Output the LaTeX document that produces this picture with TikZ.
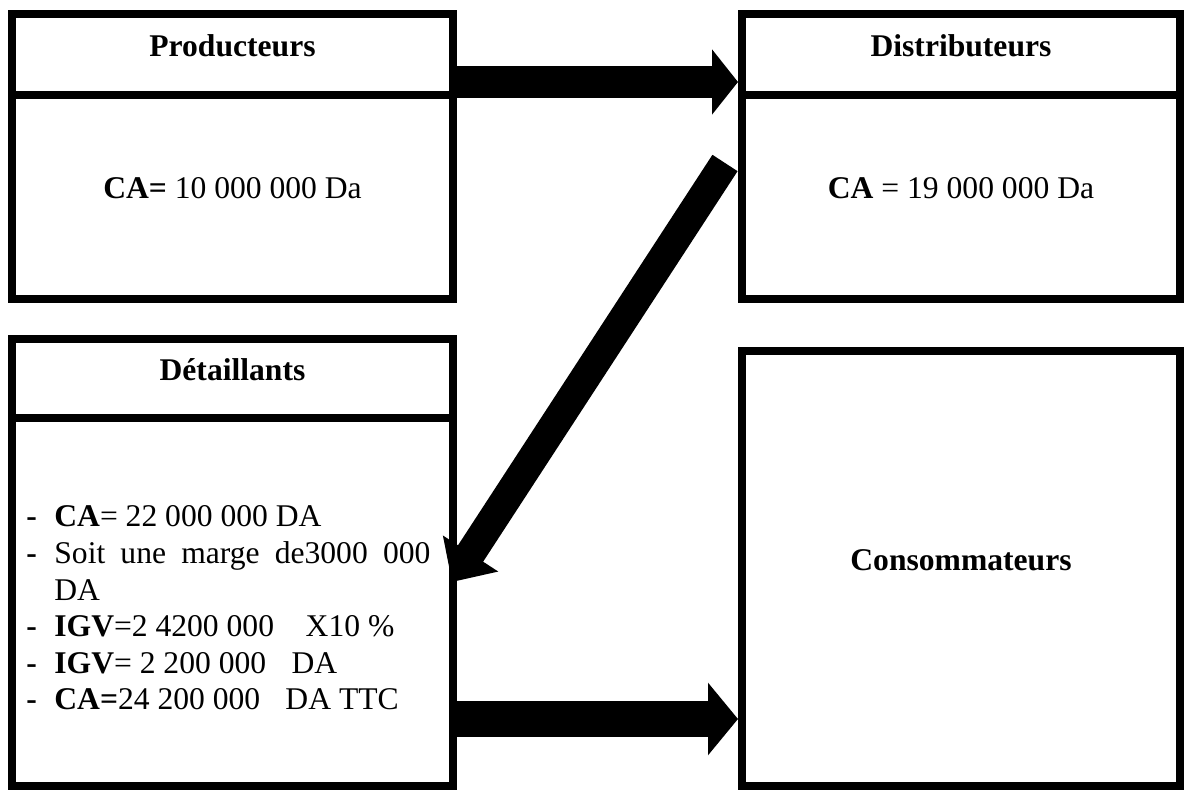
\documentclass[tikz,border=0pt]{standalone}
\usepackage{fontspec}
\setmainfont{Liberation Serif}
\usetikzlibrary{arrows.meta}

% one dashed line of the list, hanging under its own text
\newcommand{\dashitem}[1]{\par\noindent\hangindent=14pt\hangafter=1\makebox[14pt][l]{\textbf{-}}#1}

\begin{document}
\begin{tikzpicture}[x=0.5pt, y=-0.5pt]
    % Styles
    \tikzset{
        box/.style={draw, line width=4pt, inner sep=0pt, minimum width=220.5pt,
            text height=11pt, text depth=9pt, font=\fontsize{15.8}{19}\selectfont},
        list/.style={text width=202pt, inner sep=0pt, align=justify,
            font=\fontsize{15.8}{18.3}\selectfont},
        flow/.style n args={3}{line width=#1, -{Triangle[length=#2, width=#3]}},
    }

    % Page
    \fill[white] (0,0) rectangle (1184,790);
    \useasboundingbox (0,0) rectangle (1184,790);

    % Producteurs
    \node[box, minimum height=40.5pt] (prodH) at (232.5,54.5) {\textbf{Producteurs}};
    \node[box, minimum height=102pt] (prodB) at (232.5,197) {\textbf{CA=} 10 000 000 Da};

    % Distributeurs
    \node[box, minimum width=219pt, minimum height=40.5pt] (distH) at (961,54.5) {\textbf{Distributeurs}};
    \node[box, minimum width=219pt, minimum height=102pt] (distB) at (961,197) {\textbf{CA} = 19 000 000 Da};

    % Detaillants
    \node[box, minimum height=39.5pt] (detH) at (232.5,378.5) {\textbf{Détaillants}};
    \node[box, minimum height=184pt] (detB) at (232.5,602) {};
    \node[list, anchor=north west] (detL) at (26,490) {%
        \dashitem{\textbf{CA}= 22 000 000 DA}
        \dashitem{Soit une marge de3000 000\linebreak DA}
        \dashitem{\textbf{IGV}=2 4200 000\quad X10 \%}
        \dashitem{\textbf{IGV}= 2 200 000\hspace{0.8em}DA}
        \dashitem{\textbf{CA=}24 200 000\hspace{0.8em}DA TTC}};

    % Consommateurs
    \node[box, minimum width=219pt, minimum height=217.5pt] (consB) at (961,568.5) {\textbf{Consommateurs}};

    % Flows
    \draw[flow={16pt}{13pt}{32pt}] ([shift={(0,-17)}]prodH.south east) -- ([shift={(0,-17)}]distH.south west);
    \draw[flow={15pt}{17pt}{32pt}] ([shift={(-13,-34)}]distB.west) -- ([shift={(-5,-20)}]detB.east);
    \draw[flow={18pt}{15pt}{35.5pt}] ([shift={(0,-71)}]detB.south east) -- ([shift={(0,-71)}]consB.south west);

\end{tikzpicture}
\end{document}
